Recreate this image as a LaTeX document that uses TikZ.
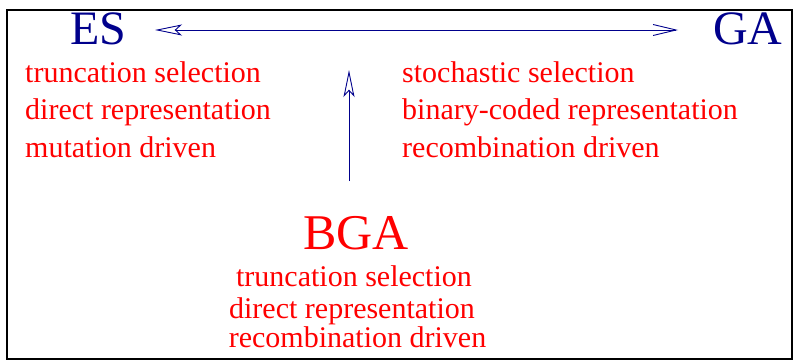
\documentclass[tikz,border=0pt]{standalone}
\usepackage{fontspec}
\setmainfont{Liberation Serif}
\usetikzlibrary{arrows.meta}
\definecolor{navy}{RGB}{0,0,140}
\tikzset{
  bigname/.style={inner sep=0pt, anchor=base west, text=navy, font=\fontsize{48}{56}\selectfont},
  trait/.style={inner sep=0pt, anchor=base west, text=red, font=\fontsize{30}{36}\selectfont},
  traitc/.style={inner sep=0pt, anchor=base, text=red, font=\fontsize{30}{36}\selectfont},
  link/.style={draw=navy, line width=0.9pt},
  opentip/.tip={Stealth[open, length=27pt, width=11pt, inset=6pt, line width=0.9pt]},
  bartip/.tip={Straight Barb[length=23pt, width=11pt, line width=0.9pt]}
}
\begin{document}
\begin{tikzpicture}[x=1pt, y=-1pt]
\useasboundingbox (0,0) rectangle (793,361);
% frame
\draw[line width=2.4pt] (7,10) rectangle (792,359);

% the three algorithm families
\node[bigname] (es) at (70,45) {ES};
\node[bigname] (ga) at (713,45) {GA};
\node[bigname, text=red, font=\fontsize{50}{58}\selectfont, anchor=base] (bga) at (356,249) {BGA};

% ES traits
\node[trait] (es1) at (25,83) {truncation selection};
\node[trait] (es2) at (25,120) {direct representation};
\node[trait] (es3) at (25,157) {mutation driven};

% GA traits
\node[trait] (ga1) at (402,83) {stochastic selection};
\node[trait] (ga2) at (402,120) {binary-coded representation};
\node[trait] (ga3) at (402,157) {recombination driven};

% BGA traits
\node[traitc] (bga1) at (354,286) {truncation selection};
\node[traitc] (bga2) at (352,318) {direct representation};
\node[traitc] (bga3) at (357.5,347) {recombination driven};

% connectors
\coordinate (lend) at (155,30);
\coordinate (rend) at (678,30);
\coordinate (vtop) at (349,70);
\coordinate (vbot) at (349,181);
\draw[link, {opentip}-{bartip}] (lend) -- (rend);
\draw[link, -{opentip}] (vbot) -- (vtop);
\end{tikzpicture}
\end{document}
